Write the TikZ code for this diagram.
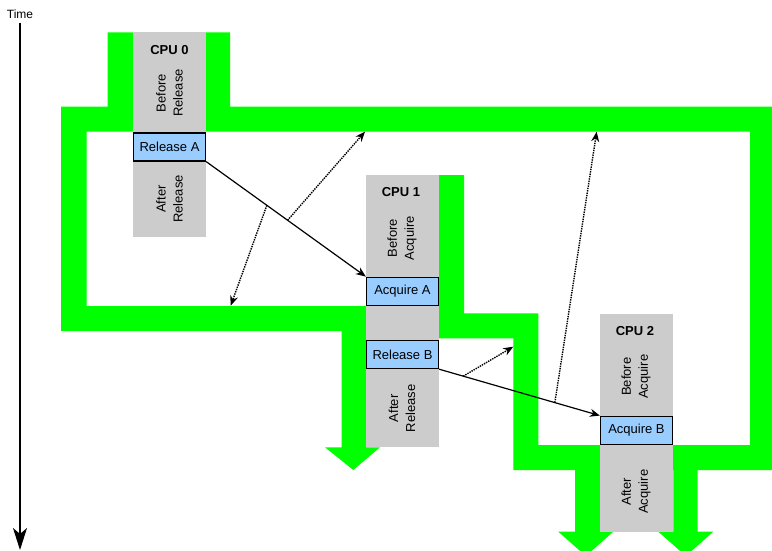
\documentclass[tikz,border=0pt]{standalone}
\usepackage{fontspec}
\setmainfont{Liberation Sans}
\usepackage{tikz}
\usetikzlibrary{arrows.meta, positioning}
\definecolor{bandgreen}{RGB}{0,255,0}
\definecolor{cpugray}{RGB}{204,204,204}
\definecolor{opblue}{RGB}{153,204,255}
\tikzstyle{cpu} = [rectangle, fill=cpugray, minimum width=73pt, inner sep=0pt, anchor=north]
\tikzstyle{op} = [rectangle, draw=black, line width=1.3pt, fill=opblue, minimum width=72pt, minimum height=28pt, inner sep=0pt, anchor=north]
\tikzstyle{phase} = [rotate=90, align=center]
\tikzstyle{cputitle} = [font=\fontsize{13}{16}\selectfont\bfseries]
\tikzstyle{arrow} = [line width=1.2pt, -{Stealth[length=10pt, width=8pt]}]
\tikzstyle{order} = [line width=1.4pt, densely dotted, -{Stealth[length=10pt, width=8pt]}]
\tikzstyle{timeline} = [line width=1.4pt, -{Stealth[length=22pt, width=14pt, inset=6pt]}]

\begin{document}
\begin{tikzpicture}[x=1pt, y=-1pt, font=\fontsize{13}{17}\selectfont]

\useasboundingbox (0,0) rectangle (772,551);

% green flow band
\fill [bandgreen, even odd rule]
  (61,106.7) -- (107.7,106.7) -- (107.7,32.3) -- (230,32.3) -- (230,106.7) -- (775,106.7)
  -- (775,470) -- (697.5,470) -- (697.5,531.7) -- (713.3,531.7) -- (685.8,556) -- (658.3,531.7)
  -- (673.3,531.7) -- (673.3,470) -- (600,470) -- (600,531.7) -- (613.3,531.7) -- (585.8,556)
  -- (558.3,531.7) -- (575,531.7) -- (575,470) -- (513.3,470) -- (513.3,338.3) -- (366,338.3)
  -- (366,447.3) -- (380,447.3) -- (353.3,470) -- (325,447.3) -- (341.7,447.3) -- (341.7,331)
  -- (61,331) -- cycle
  (86.7,131.7) -- (750,131.7) -- (750,445) -- (538.3,445) -- (538.3,313.3) -- (464,313.3)
  -- (464,175) -- (366,175) -- (366,306) -- (86.7,306) -- cycle;

% CPU columns
\node (cpu0) [cpu, minimum height=204.4pt] at (169.5,32.3) {};
\node (cpu1) [cpu, minimum height=271.7pt] at (402.5,175) {};
\node (cpu2) [cpu, minimum height=217.7pt] at (636.5,314) {};

\node (title0) [cputitle] at (169.5,50.5) {CPU 0};
\node (title1) [cputitle] at (401,192.5) {CPU 1};
\node (title2) [cputitle] at (635,331.3) {CPU 2};

\node (before0) [phase] at (169.5,93) {Before\\Release};
\node (after0) [phase] at (169.5,199) {After\\Release};
\node (before1) [phase] at (402,238.3) {Before\\Acquire};
\node (after1) [phase] at (402,408.3) {After\\Release};
\node (before2) [phase] at (636,376.7) {Before\\Acquire};
\node (after2) [phase] at (636,491.7) {After\\Acquire};

% operations
\node (relA) [op] at (169.5,132.3) {Release A};
\node (acqA) [op] at (402.5,276.6) {Acquire A};
\node (relB) [op] at (402.5,339.9) {Release B};
\node (acqB) [op] at (636.5,415.6) {Acquire B};

% time axis
\node (time) [font=\fontsize{12}{14}\selectfont, inner sep=2pt] at (20,14) {Time};
\coordinate (tend) at (20,550);
\draw [timeline] ([yshift=-2pt]time.south) -- (tend);

% release -> acquire
\draw [arrow] (relA.south east) -- coordinate[pos=0.38] (mA1) coordinate[pos=0.51] (mA2) (acqA.north west);
\draw [arrow] (relB.south east) -- coordinate[pos=0.15] (mB1) coordinate[pos=0.72] (mB2) (acqB.north west);

% ordering
\coordinate (fA1) at (230.7,305.7);
\coordinate (fA2) at (365,131.7);
\coordinate (fB1) at (513.3,346.7);
\coordinate (fB2) at (596.7,131.7);
\draw [order] (mA1) -- (fA1);
\draw [order] (mA2) -- (fA2);
\draw [order] (mB1) -- (fB1);
\draw [order] (mB2) -- (fB2);

\end{tikzpicture}
\end{document}
